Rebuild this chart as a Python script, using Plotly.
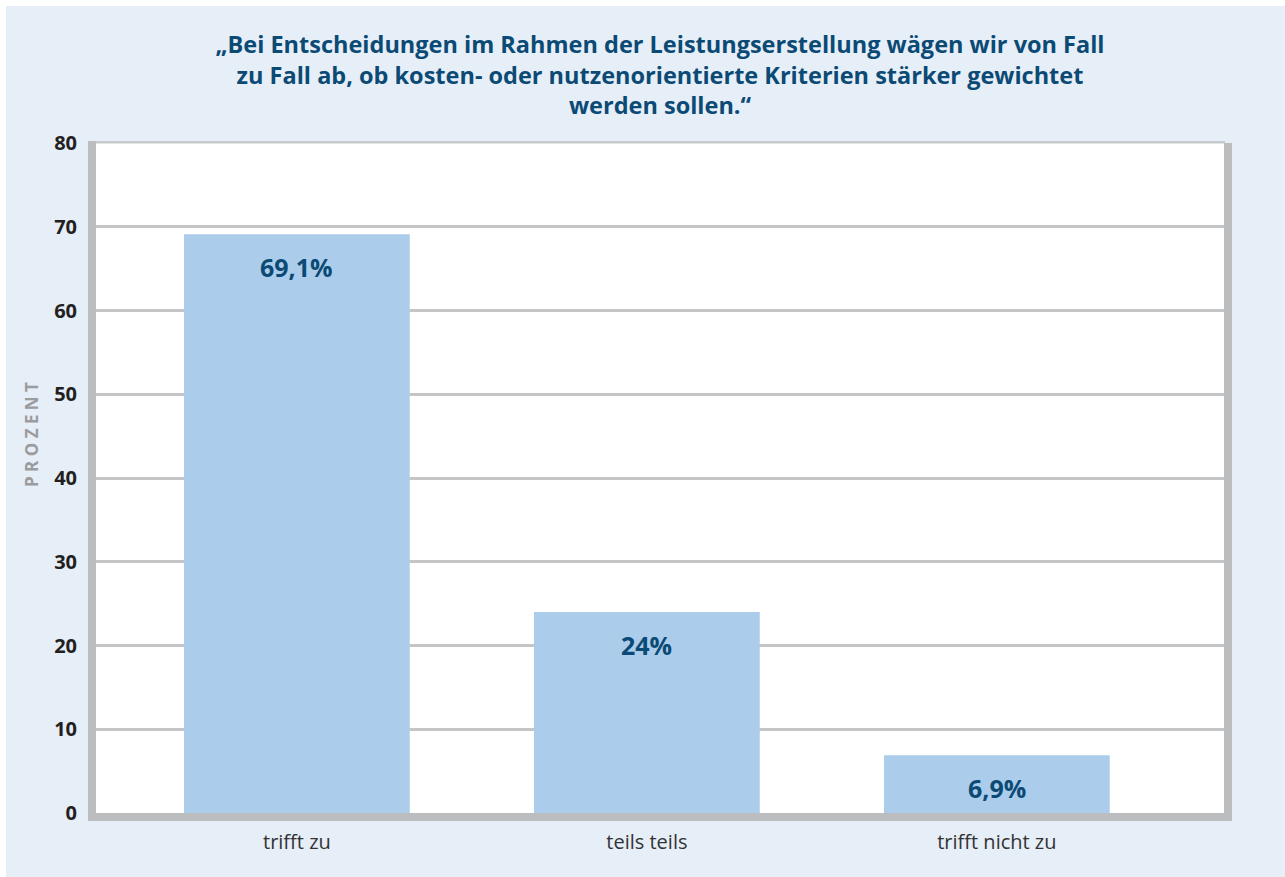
import plotly.graph_objects as go

categories = ["trifft zu", "teils teils", "trifft nicht zu"]
values = [69.1, 24.0, 6.9]
labels = ["69,1%", "24%", "6,9%"]
y_ticks = [0, 10, 20, 30, 40, 50, 60, 70, 80]
title_text = ("„Bei Entscheidungen im Rahmen der Leistungserstellung wägen wir von Fall<br>"
              "zu Fall ab, ob kosten- oder nutzenorientierte Kriterien stärker gewichtet<br>"
              "werden sollen.“")
y_title = "PROZENT"

W, H = 1285, 877
L, R, T, B = 96, 61, 143, 64
pw, ph = W - L - R, H - T - B

def px_x(p):
    return (p - L) / pw

def px_y(p):
    return (H - B - p) / ph

BG = "#e6eef8"
BAR = "#abcdeb"
DARKBLUE = "#0b4a74"
FRAME = "#bcbdbf"

fig = go.Figure()
fig.add_trace(go.Bar(
    x=list(range(len(categories))), y=values,
    marker=dict(color=BAR, line=dict(width=0)),
    width=0.645, hoverinfo="skip",
))

annotations = []
for i, (v, lab) in enumerate(zip(values, labels)):
    annotations.append(dict(x=i, y=v, xref="x", yref="y", text=f"<b>{lab}</b>",
                            showarrow=False, yanchor="middle", yshift=-33,
                            font=dict(family="Open Sans", size=25, color=DARKBLUE)))
annotations.append(dict(x=px_x(32), y=px_y(435), xref="paper", yref="paper",
                        text="<b>" + " ".join(y_title) + "</b>", textangle=-90,
                        showarrow=False, xanchor="center", yanchor="middle",
                        font=dict(family="Open Sans", size=17, color="#9b9c9e")))

shapes = [
    # white strips top / left
    dict(type="rect", xref="paper", yref="paper", x0=px_x(0), x1=px_x(W), y0=px_y(6), y1=px_y(-2),
         fillcolor="white", line=dict(width=0), layer="below"),
    dict(type="rect", xref="paper", yref="paper", x0=px_x(-2), x1=px_x(6), y0=px_y(H + 2), y1=px_y(0),
         fillcolor="white", line=dict(width=0), layer="below"),
    # frame
    dict(type="rect", xref="paper", yref="paper", x0=px_x(88), x1=px_x(1225), y0=px_y(143.5), y1=px_y(141),
         fillcolor="#c8c9cb", line=dict(width=0)),
    dict(type="rect", xref="paper", yref="paper", x0=px_x(88), x1=px_x(96), y0=px_y(821), y1=px_y(141),
         fillcolor=FRAME, line=dict(width=0)),
    dict(type="rect", xref="paper", yref="paper", x0=px_x(1224), x1=px_x(1232), y0=px_y(821), y1=px_y(143),
         fillcolor=FRAME, line=dict(width=0)),
    dict(type="rect", xref="paper", yref="paper", x0=px_x(88), x1=px_x(1232), y0=px_y(821), y1=px_y(813),
         fillcolor=FRAME, line=dict(width=0)),
]

fig.update_layout(
    width=W, height=H,
    margin=dict(l=L, r=R, t=T, b=B),
    paper_bgcolor=BG, plot_bgcolor="white",
    showlegend=False,
    title=dict(text=f"<b>{title_text}</b>", x=0.5, xref="paper", xanchor="center",
               y=1 - 53 / H, yref="container", yanchor="top",
               font=dict(family="Open Sans", size=23.5, color=DARKBLUE)),
    xaxis=dict(range=[-0.574, 2.649], tickmode="array", tickvals=list(range(len(categories))),
               ticktext=categories, showgrid=False, zeroline=False, showline=False,
               ticks="outside", ticklen=11, tickcolor="rgba(0,0,0,0)",
               tickfont=dict(family="Open Sans", size=20, color="#333333"), fixedrange=True),
    yaxis=dict(range=[0, 80], tickmode="array", tickvals=y_ticks,
               ticktext=[f"<b>{t}</b>" for t in y_ticks],
               showgrid=True, gridcolor="#c4c5c7", gridwidth=3, zeroline=False, showline=False,
               ticks="outside", ticklen=14, tickcolor="rgba(0,0,0,0)",
               tickfont=dict(family="Open Sans", size=20, color="#231f20"), fixedrange=True),
    annotations=annotations,
    shapes=shapes,
)

fig.write_html("out.html", config={"displayModeBar": False},
               post_script="document.body.style.margin='0';document.body.style.padding='0';")
